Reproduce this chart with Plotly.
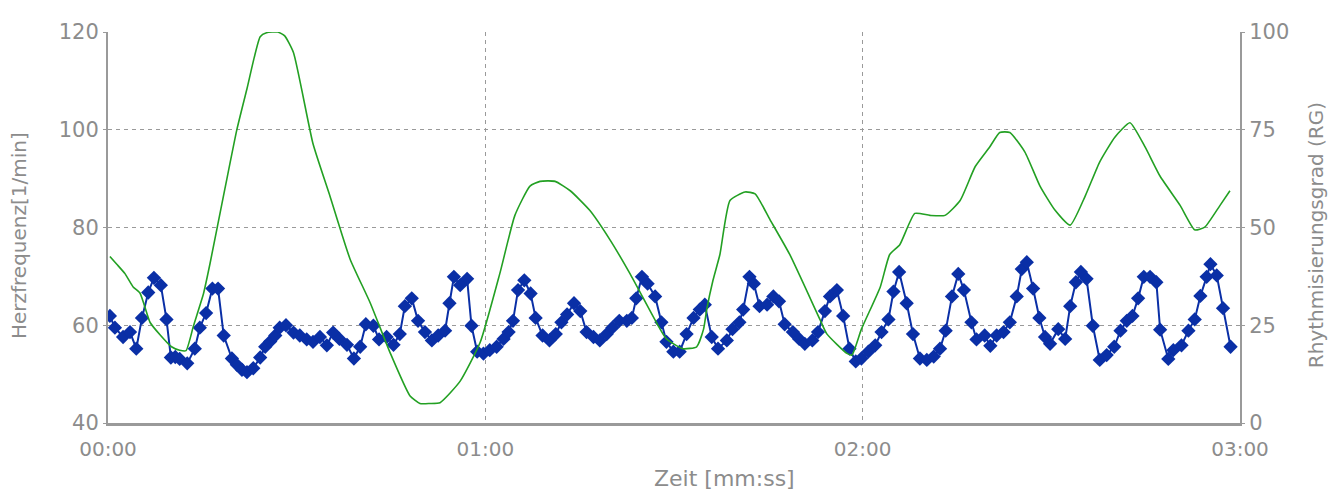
import plotly.graph_objects as go

# Heart rate (left axis) - time in seconds, value in 1/min
hr_t = [0.3, 1.1, 2.4, 3.5, 4.5, 5.4, 6.4, 7.3, 8.4, 9.3, 10.0, 10.7, 11.4, 12.6, 13.8, 14.6, 15.6, 16.6, 17.5, 18.4,
        19.7, 20.5, 21.3, 22.1, 23.1, 24.2, 25.0, 25.8, 26.6, 27.3, 28.3, 29.5, 30.5, 31.6, 32.6, 33.7, 34.8, 35.8, 36.8, 38.0,
        39.1, 40.1, 41.0, 42.2, 43.1, 44.3, 45.4, 46.4, 47.2, 48.3, 49.3, 50.4, 51.5, 52.5, 53.6, 54.3, 55.0, 56.0, 57.1, 57.8,
        58.7, 59.7, 60.7, 61.8, 62.9, 63.7, 64.4, 65.2, 66.2, 67.2, 68.0, 69.1, 70.2, 71.2, 72.1, 73.0, 74.1, 75.1, 76.1, 77.2,
        78.2, 79.3, 80.2, 81.3, 82.5, 83.3, 84.0, 84.9, 85.8, 87.0, 88.0, 88.8, 89.9, 90.9, 92.0, 93.1, 94.1, 94.9, 96.0, 97.0,
        98.4, 99.3, 100.4, 101.0, 102.0, 102.7, 103.6, 104.8, 105.8, 106.7, 107.6, 108.9, 109.9, 110.8, 112.0, 112.9, 114.0, 114.8, 115.9, 116.9,
        117.9, 118.9, 119.8, 120.9, 122.0, 123.0, 124.1, 124.9, 125.8, 127.0, 128.0, 129.1, 130.2, 131.3, 132.3, 133.2, 134.2, 135.2, 136.1, 137.3,
        138.1, 139.4, 140.3, 141.3, 142.4, 143.4, 144.5, 145.3, 146.1, 147.1, 148.1, 149.0, 149.8, 151.1, 152.2, 153.0, 153.9, 154.7, 155.6, 156.6,
        157.7, 158.8, 160.0, 161.0, 162.0, 162.9, 163.8, 164.7, 165.7, 166.7, 167.3, 168.6, 169.4, 170.7, 171.8, 172.8, 173.7, 174.7, 175.3, 176.3,
        177.3, 178.5]
hr_val = [61.9, 59.5, 57.6, 58.6, 55.2, 61.5, 66.7, 69.7, 68.2, 61.2, 53.4, 53.5, 53.1, 52.2, 55.2, 59.5, 62.5, 67.5, 67.5, 57.9,
          53.2, 51.9, 50.9, 50.4, 51.2, 53.4, 55.6, 56.7, 57.9, 59.5, 60.0, 58.5, 57.9, 57.1, 56.6, 57.6, 55.9, 58.5, 57.2, 56.0,
          53.2, 55.6, 60.2, 59.9, 57.1, 57.6, 56.0, 58.2, 63.9, 65.5, 60.9, 58.6, 56.9, 57.9, 58.9, 64.5, 69.9, 68.2, 69.5, 59.9,
          54.6, 54.2, 54.9, 55.6, 57.2, 58.6, 60.9, 67.2, 69.2, 66.5, 61.5, 57.9, 56.9, 58.2, 60.6, 62.2, 64.5, 62.9, 58.6, 57.6,
          56.9, 58.2, 59.5, 60.9, 60.9, 61.5, 65.5, 69.9, 68.5, 65.9, 60.6, 56.6, 54.6, 54.6, 58.2, 61.5, 63.2, 64.2, 57.6, 55.2,
          56.9, 59.2, 60.6, 63.2, 69.9, 68.5, 63.9, 64.2, 65.9, 64.9, 60.2, 58.6, 57.2, 56.2, 56.9, 58.6, 62.9, 65.9, 67.2, 61.9,
          55.2, 52.6, 53.2, 54.6, 55.9, 58.6, 61.2, 66.9, 70.9, 64.5, 58.2, 53.2, 52.9, 53.6, 55.2, 58.9, 65.9, 70.5, 67.2, 60.6,
          57.1, 57.9, 55.8, 57.9, 58.6, 60.6, 65.9, 71.5, 72.9, 67.5, 61.5, 57.6, 56.2, 59.2, 57.2, 63.9, 68.8, 70.9, 69.5, 59.9,
          52.9, 53.9, 55.6, 58.9, 60.9, 61.9, 65.5, 69.9, 69.9, 68.8, 59.1, 53.1, 54.9, 55.9, 58.9, 61.2, 66.0, 69.9, 72.5, 70.2,
          63.5, 55.6]

# Rhythmisierungsgrad (right axis)
rg_t = [0.3, 1.4, 2.7, 4.0, 5.1, 6.7, 8.3, 10.1, 11.4, 12.4, 13.6, 15.2, 16.2, 18.6, 20.5, 22.1, 24.2, 25.2, 27.0, 28.1,
        29.5, 32.6, 35.3, 38.5, 41.7, 44.8, 48.0, 49.6, 51.2, 52.8, 56.0, 59.2, 62.3, 64.7, 67.1, 68.7, 71.1, 73.5, 76.6, 79.8,
        83.0, 87.2, 88.8, 91.4, 93.6, 94.7, 95.2, 96.2, 97.3, 98.9, 101.3, 102.9, 105.3, 108.4, 113.2, 114.3, 117.5, 118.3, 119.8, 122.8,
        124.3, 125.9, 128.3, 130.7, 133.1, 135.5, 137.9, 140.2, 141.8, 143.4, 145.8, 148.2, 150.6, 153.0, 155.4, 157.7, 160.1, 162.5, 164.9, 167.3,
        170.5, 172.8, 174.4, 176.8, 178.4]
rg_val = [42.6, 40.6, 38.2, 34.8, 33.2, 25.7, 22.5, 19.5, 18.6, 18.5, 24.9, 33.2, 40.6, 60.0, 75.1, 85.5, 98.8, 99.8, 100.0, 99.0,
          94.7, 71.4, 58.0, 41.9, 30.7, 18.2, 7.0, 5.0, 5.0, 5.2, 10.7, 20.7, 38.2, 53.1, 60.6, 61.8, 61.8, 59.4, 54.4, 46.9,
          38.2, 25.7, 21.5, 19.0, 19.5, 24.0, 29.0, 36.5, 43.1, 56.9, 59.1, 58.6, 51.9, 43.1, 26.5, 22.8, 17.8, 17.4, 24.0, 34.8,
          43.1, 45.6, 53.6, 53.1, 53.1, 56.9, 65.6, 70.6, 74.3, 74.3, 69.3, 60.6, 54.4, 50.6, 58.1, 66.8, 73.1, 76.8, 70.6, 63.1,
          55.6, 49.4, 50.1, 55.6, 59.4]

x_tickvals = [0, 60, 120, 180]
x_ticktext = ["00:00", "01:00", "02:00", "03:00"]
y1_ticks = [40, 60, 80, 100, 120]
y2_ticks = [0, 25, 50, 75, 100]

GREY = "#8c8c8c"
AXIS = "#9a9a9a"
FONT = "DejaVu Sans"

fig = go.Figure()
fig.add_trace(go.Scatter(x=rg_t, y=rg_val, yaxis="y2", mode="lines",
                         line=dict(color="#23a023", width=1.6, shape="spline", smoothing=0.5),
                         showlegend=False))
fig.add_trace(go.Scatter(x=hr_t, y=hr_val, mode="lines+markers",
                         line=dict(color="#0a2fa6", width=2),
                         marker=dict(symbol="diamond", size=11, color="#0a2fa6"),
                         showlegend=False))

fig.update_layout(
    width=1328, height=484,
    margin=dict(l=100, r=96, t=14, b=69),
    paper_bgcolor="white", plot_bgcolor="white",
    font=dict(family=FONT, size=21, color=GREY),
    xaxis=dict(range=[0, 180], tickvals=x_tickvals, ticktext=x_ticktext,
               showgrid=True, gridcolor=AXIS, griddash="4px,4px", gridwidth=1,
               showline=True, linecolor=AXIS, linewidth=3, ticks="", zeroline=False,
               ticklabelstandoff=6,
               tickfont=dict(family=FONT, size=20, color=GREY)),
    yaxis=dict(range=[40, 120], tickvals=y1_ticks,
               showgrid=True, gridcolor=AXIS, griddash="4px,4px", gridwidth=1,
               showline=True, linecolor=AXIS, linewidth=2, ticks="outside", ticklen=3,
               tickcolor=AXIS, zeroline=False,
               tickfont=dict(family=FONT, size=21, color=GREY)),
    yaxis2=dict(range=[0, 100], tickvals=y2_ticks, overlaying="y", side="right",
                showgrid=False, showline=True, linecolor=AXIS, linewidth=2,
                ticks="outside", ticklen=3, tickcolor=AXIS, zeroline=False,
                tickfont=dict(family=FONT, size=21, color=GREY)),
    annotations=[
        dict(text="Zeit [mm:ss]", xref="paper", yref="paper", x=0.545, y=-0.142,
             showarrow=False, xanchor="center", yanchor="middle",
             font=dict(family=FONT, size=22, color=GREY)),
        dict(text="Herzfrequenz[1/min]", xref="paper", yref="paper", x=-0.078, y=0.48,
             showarrow=False, textangle=-90, xanchor="center", yanchor="middle",
             font=dict(family=FONT, size=20, color=GREY)),
        dict(text="Rhythmisierungsgrad (RG)", xref="paper", yref="paper", x=1.067, y=0.48,
             showarrow=False, textangle=-90, xanchor="center", yanchor="middle",
             font=dict(family=FONT, size=20, color=GREY)),
    ],
)

fig.write_html("out.html")
